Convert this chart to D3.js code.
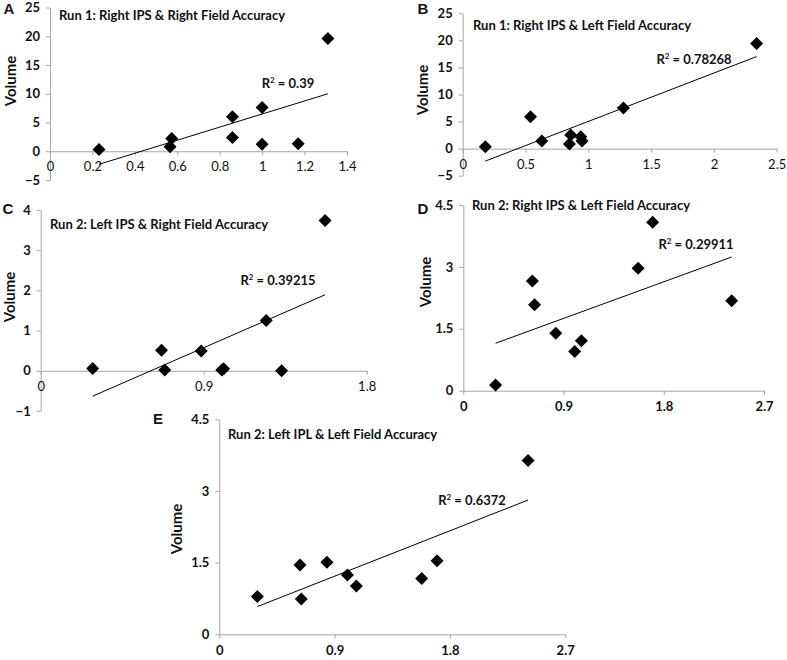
<!DOCTYPE html>
<html>
<head>
<meta charset="utf-8">
<script src="https://cdn.jsdelivr.net/npm/d3@7"></script>
<style>
  html, body { margin: 0; padding: 0; background: #fff; }
  svg { display: block; font-family: Lato, "Open Sans", sans-serif; }
</style>
</head>
<body>
<svg id="chart" width="787" height="660"></svg>
<script>
// ---------- DATA ----------
const titleA = "Run 1: Right IPS & Right Field Accuracy";
const xA = [0.231, 0.566, 0.574, 0.86, 0.86, 1.0, 1.0, 1.17, 1.31];
const yA = [0.3, 0.8, 2.2, 6.0, 2.4, 7.6, 1.2, 1.3, 19.6];
const trendA = [[0.232, -2.26], [1.31, 10.0]];
const r2A = "0.39";
const xTicksA = [0, 0.2, 0.4, 0.6, 0.8, 1, 1.2, 1.4];
const yTicksA = [-5, 0, 5, 10, 15, 20, 25];

const titleB = "Run 1: Right IPS & Left Field Accuracy";
const xB = [0.18, 0.54, 0.63, 0.85, 0.86, 0.94, 0.95, 1.28, 2.34];
const yB = [0.37, 5.9, 1.4, 0.86, 2.5, 2.2, 1.4, 7.5, 19.4];
const trendB = [[0.18, -2.3], [2.34, 17.0]];
const r2B = "0.78268";
const xTicksB = [0, 0.5, 1, 1.5, 2, 2.5];
const yTicksB = [-5, 0, 5, 10, 15, 20, 25];

const titleC = "Run 2: Left IPS & Right Field Accuracy";
const xC = [0.287, 0.667, 0.685, 0.886, 1.0, 1.01, 1.245, 1.33, 1.57];
const yC = [0.06, 0.51, 0.02, 0.49, 0.02, 0.05, 1.25, 0.0, 3.74];
const trendC = [[0.287, -0.63], [1.57, 1.89]];
const r2C = "0.39215";
const xTicksC = [0, 0.9, 1.8];
const yTicksC = [-1, 0, 1, 2, 3, 4];

const titleD = "Run 2: Right IPS & Left Field Accuracy";
const xD = [0.29, 0.62, 0.64, 0.83, 1.0, 1.06, 1.57, 1.70, 2.41];
const yD = [0.14, 2.66, 2.08, 1.39, 0.95, 1.21, 2.97, 4.08, 2.18];
const trendD = [[0.29, 1.15], [2.41, 3.24]];
const r2D = "0.29911";
const xTicksD = [0, 0.9, 1.8, 2.7];
const yTicksD = [0, 1.5, 3, 4.5];

const titleE = "Run 2: Left IPL & Left Field Accuracy";
const xE = [0.297, 0.63, 0.64, 0.84, 1.0, 1.07, 1.58, 1.70, 2.41];
const yE = [0.79, 1.45, 0.74, 1.51, 1.24, 1.01, 1.17, 1.54, 3.64];
const trendE = [[0.297, 0.58], [2.41, 2.81]];
const r2E = "0.6372";
const xTicksE = [0, 0.9, 1.8, 2.7];
const yTicksE = [0, 1.5, 3, 4.5];

const yLabel = "Volume";

// ---------- LAYOUT ----------
const panels = [
  { letter: "A", title: titleA, xs: xA, ys: yA, trend: trendA, r2: r2A, xt: xTicksA, yt: yTicksA,
    xr: [50, 347], yr: [180, 7.5], letterPos: [9, 14], titlePos: [59, 20], r2Pos: [288, 88],
    volPos: [11, 81], boldX: false },
  { letter: "B", title: titleB, xs: xB, ys: yB, trend: trendB, r2: r2B, xt: xTicksB, yt: yTicksB,
    xr: [462.7, 776.7], yr: [175.7, 13.3], letterPos: [423, 14], titlePos: [473, 30], r2Pos: [694, 64],
    volPos: [422.5, 90], boldX: false },
  { letter: "C", title: titleC, xs: xC, ys: yC, trend: trendC, r2: r2C, xt: xTicksC, yt: yTicksC,
    xr: [40.7, 366.7], yr: [411, 210], letterPos: [8, 214], titlePos: [50, 229], r2Pos: [278, 285],
    volPos: [10, 297], boldX: false },
  { letter: "D", title: titleD, xs: xD, ys: yD, trend: trendD, r2: r2D, xt: xTicksD, yt: yTicksD,
    xr: [463.3, 764], yr: [390.7, 205], letterPos: [423, 214], titlePos: [472, 210], r2Pos: [696, 249],
    volPos: [426, 282], boldX: true },
  { letter: "E", title: titleE, xs: xE, ys: yE, trend: trendE, r2: r2E, xt: xTicksE, yt: yTicksE,
    xr: [219.3, 565.2], yr: [634.3, 419.3], letterPos: [158, 424], titlePos: [228, 439], r2Pos: [472, 505],
    volPos: [177, 529], boldX: true }
];

const svg = d3.select("#chart");
const axisColor = "#a6a6a6";
const diamond = "M0,-6.5L6.5,0L0,6.5L-6.5,0Z";

panels.forEach(p => {
  const x = d3.scaleLinear().domain([p.xt[0], p.xt[p.xt.length - 1]]).range(p.xr);
  const y = d3.scaleLinear().domain([p.yt[0], p.yt[p.yt.length - 1]]).range(p.yr);
  const g = svg.append("g");

  // y axis
  const ya = g.append("g").attr("transform", `translate(${x(0)},0)`)
    .call(d3.axisLeft(y).tickValues(p.yt).tickSize(4).tickSizeOuter(0).tickPadding(6)
      .tickFormat(d3.format("")));
  // x axis
  const xa = g.append("g").attr("transform", `translate(0,${y(0)})`)
    .call(d3.axisBottom(x).tickValues(p.xt).tickSize(4).tickSizeOuter(0).tickPadding(7)
      .tickFormat(d3.format("")));
  [ya, xa].forEach(a => {
    a.select(".domain").attr("stroke", axisColor).attr("stroke-width", 1);
    a.selectAll(".tick line").attr("stroke", axisColor);
    a.selectAll("text").attr("font-family", "Lato, 'Open Sans', sans-serif")
      .attr("font-size", 13).attr("fill", "#111");
  });
  ya.selectAll("text").attr("font-weight", "bold");
  xa.selectAll("text").attr("font-weight", p.boldX ? "bold" : "normal");

  // trend line
  g.append("line")
    .attr("x1", x(p.trend[0][0])).attr("y1", y(p.trend[0][1]))
    .attr("x2", x(p.trend[1][0])).attr("y2", y(p.trend[1][1]))
    .attr("stroke", "#000").attr("stroke-width", 1);

  // points
  g.selectAll("path.pt").data(p.xs.map((v, i) => [v, p.ys[i]])).enter()
    .append("path").attr("class", "pt")
    .attr("d", diamond)
    .attr("transform", d => `translate(${x(d[0])},${y(d[1])})`)
    .attr("fill", "#000");

  // title
  g.append("text").attr("x", p.titlePos[0]).attr("y", p.titlePos[1])
    .attr("font-size", 13).attr("font-weight", "bold").attr("fill", "#111")
    .text(p.title);

  // R² label
  const r = g.append("text").attr("x", p.r2Pos[0]).attr("y", p.r2Pos[1])
    .attr("text-anchor", "middle").attr("font-size", 13).attr("font-weight", "bold").attr("fill", "#111");
  r.append("tspan").text("R");
  r.append("tspan").attr("font-size", 8).attr("dy", -5).text("2");
  r.append("tspan").attr("dy", 5).text(" = " + p.r2);

  // Volume label
  g.append("text")
    .attr("transform", `translate(${p.volPos[0]},${p.volPos[1]}) rotate(-90)`)
    .attr("text-anchor", "middle").attr("dy", "0.35em")
    .attr("font-size", 15).attr("font-weight", "bold").attr("fill", "#111")
    .text(yLabel);

  // panel letter
  g.append("text").attr("x", p.letterPos[0]).attr("y", p.letterPos[1])
    .attr("text-anchor", "middle")
    .attr("font-family", "'Liberation Sans', Arial, sans-serif")
    .attr("font-size", 15).attr("font-weight", "bold").attr("fill", "#111")
    .text(p.letter);
});
</script>
</body>
</html>
